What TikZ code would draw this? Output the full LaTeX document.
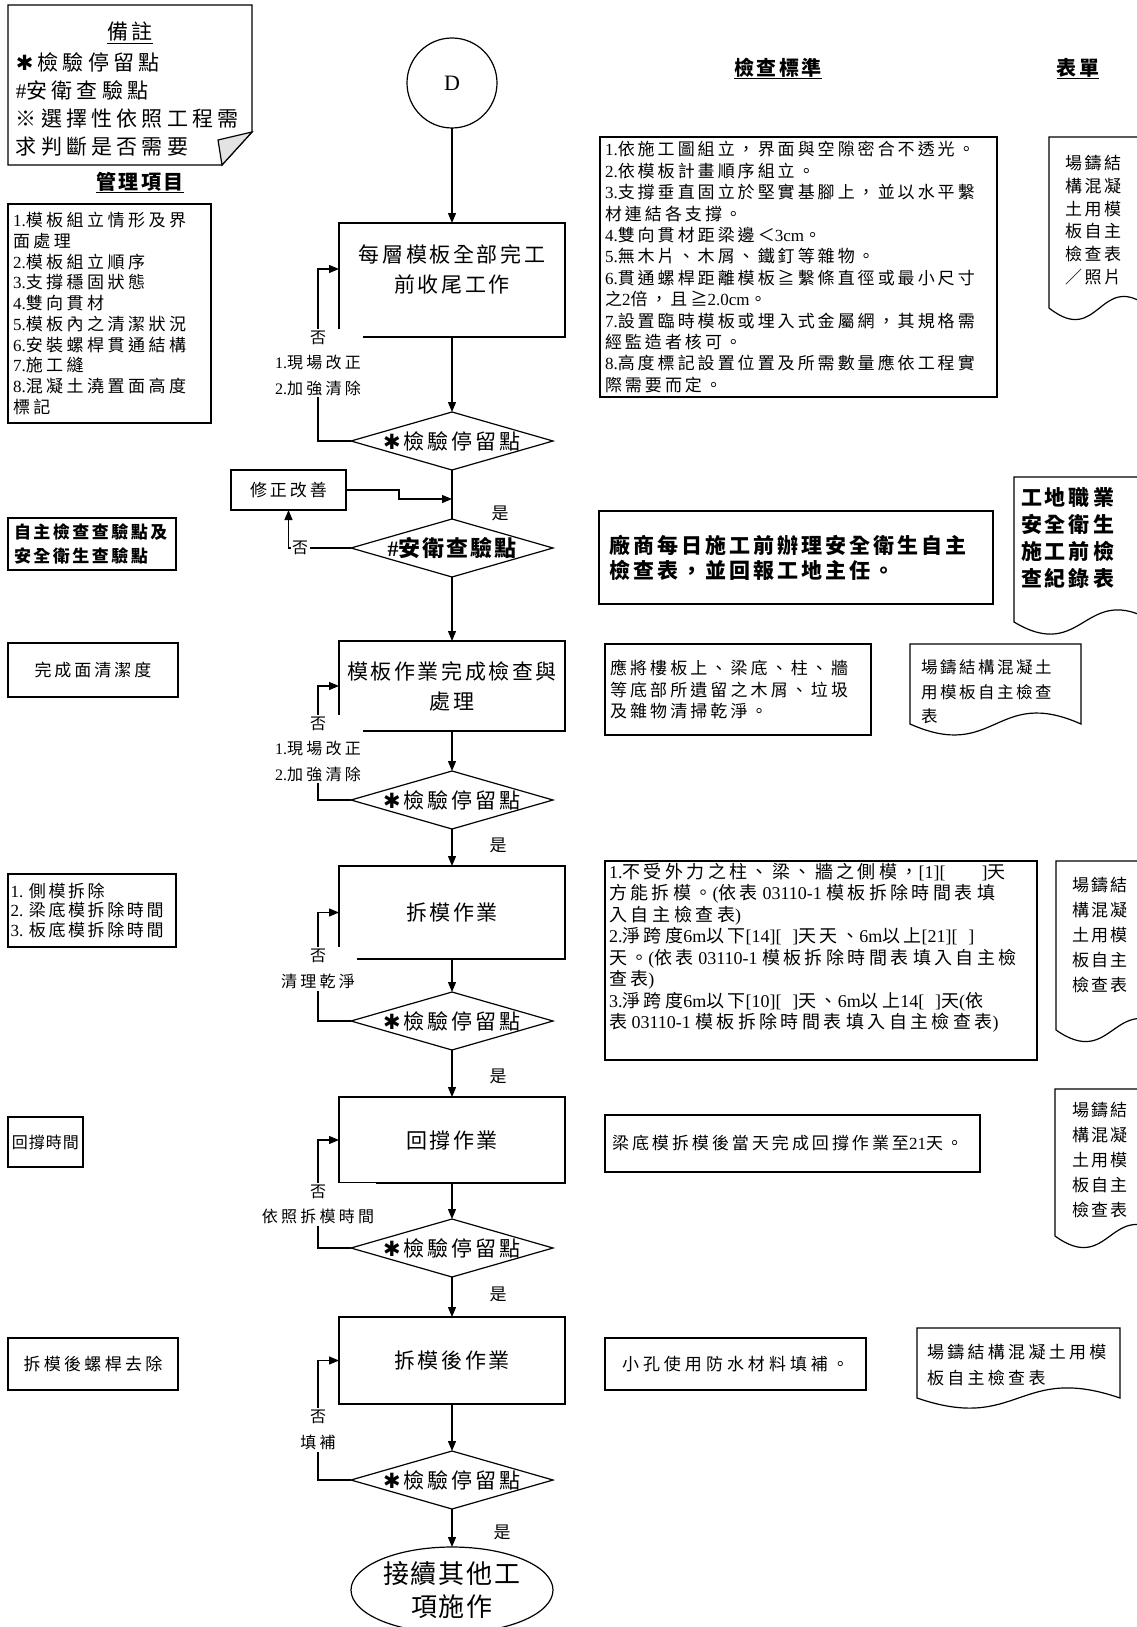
\documentclass[tikz,border=0pt]{standalone}
\usepackage{fontspec}
\setmainfont{Liberation Serif}
\newfontfamily\cjk{Noto Sans CJK TC}
\newfontfamily\djv{DejaVu Sans}
\usetikzlibrary{shapes.geometric,arrows.meta}
\XeTeXinterchartokenstate=1
\newXeTeXintercharclass\CJKcls
\newcount\cjkc
\newdimen\cjkgap
\def\cjkrange#1#2{\cjkc=#1\relax
  \loop\XeTeXcharclass\cjkc=\CJKcls\relax\advance\cjkc by 1\relax\ifnum\cjkc<#2\relax\repeat}
\cjkrange{"4E00}{"A000}
\cjkrange{"3000}{"3040}
\cjkrange{"FF00}{"FFF0}
\XeTeXcharclass"2267=\CJKcls
\XeTeXcharclass"203B=\CJKcls
\XeTeXinterchartoks 0 \CJKcls={\cjk}
\XeTeXinterchartoks 4095 \CJKcls={\cjk}
\XeTeXinterchartoks \CJKcls 0={\rmfamily}
\XeTeXinterchartoks \CJKcls 4095={\rmfamily}
\XeTeXinterchartoks \CJKcls \CJKcls={\kern\cjkgap}
\newcommand\fs[3]{\fontsize{#1}{#2}\selectfont\cjkgap=#3pt\relax}
\newcommand\hast{{\djv\bfseries ✱}\kern\cjkgap}
\begin{document}
\begin{tikzpicture}[x=1pt,y=-1pt,line width=1.2pt,
 every node/.style={inner sep=0pt,outer sep=0pt},
 arr/.style={-{Triangle[length=10pt,width=8pt]}},
 pbox/.style={draw,rectangle,minimum width=226pt,minimum height=#1,align=center,font=\fs{21}{30}{2.6}},
 dia/.style={draw,diamond,minimum width=202pt,minimum height=58pt},
 dlab/.style={font=\fs{21}{25}{3}},
 rbox/.style={draw,rectangle,align=left},
 ctext/.style={align=left,font=\fs{17}{21.4}{3}},
 lbl/.style={fill=white,inner sep=2pt,align=center,font=\fs{16}{25.5}{3.3}},
 yes/.style={font=\fs{17}{20}{0}},
 hdr/.style={font=\fs{20}{24}{2.5}\bfseries},
 doctext/.style={align=left,font=\fs{17}{23}{2.5}},
 ul/.style={line width=1.3pt}
]
\useasboundingbox (0,0) rectangle (1137,1627);

% ---------- note box ----------
\draw (8,5) -- (252,5) -- (252,132) -- (222,165) -- (8,165) -- cycle;
\draw[fill=gray!22] (252,132) -- (218,140) -- (222,165) -- cycle;
\node[font=\fs{21}{25}{4}] (nt) at (130,32) {備註};
\draw[ul] ([yshift=-2pt]nt.south west) -- ([yshift=-2pt]nt.south east);
\node[anchor=west,align=left,font=\fs{21}{27.7}{4.2}] (note) at (16,104.5)
  {\hast 檢驗停留點\\\#安衛查驗點\\※選擇性依照工程需\\求判斷是否需要};

% ---------- headers ----------
\node[hdr] (h1) at (140,182) {管理項目};
\draw[ul] ([yshift=-1pt]h1.south west) -- ([yshift=-1pt]h1.south east);
\node[hdr] (h2) at (778,68) {檢查標準};
\draw[ul] ([yshift=-1pt]h2.south west) -- ([yshift=-1pt]h2.south east);
\node[hdr] (h3) at (1078,68) {表單};
\draw[ul] ([yshift=-1pt]h3.south west) -- ([yshift=-1pt]h3.south east);

% ---------- main flow ----------
\node[draw,circle,minimum size=90pt,font=\fontsize{22}{26}\selectfont] (D) at (452,83) {D};
\node[pbox=114pt,label={[align=center,font=\fs{21}{30}{2.6},yshift=11pt]center:{每層模板全部完工\\前收尾工作}}] (b1) at (452,280) {};
\node[dia,label={[dlab]center:{\hast 檢驗停留點}}] (d1) at (452,441) {};
\node[draw,rectangle,minimum width=115pt,minimum height=40pt,font=\fs{17}{20}{3}] (fix) at (288.5,490) {修正改善};
\coordinate (j1) at (452,499);
\node[dia,label={[font=\fs{22}{25}{2}\bfseries]center:{\#安衛查驗點}}] (d2) at (452,548) {};
\node[pbox=90pt] (b2) at (452,686) {模板作業完成檢查與\\處理};
\node[dia,label={[dlab]center:{\hast 檢驗停留點}}] (d3) at (452,800) {};
\node[pbox=93pt] (b3) at (452,912.5) {拆模作業};
\node[dia,label={[dlab]center:{\hast 檢驗停留點}}] (d4) at (452,1021) {};
\node[pbox=86pt] (b4) at (452,1140) {回撐作業};
\node[dia,label={[dlab]center:{\hast 檢驗停留點}}] (d5) at (452,1248) {};
\node[pbox=87pt] (b5) at (452,1360.5) {拆模後作業};
\node[dia,label={[dlab]center:{\hast 檢驗停留點}}] (d6) at (452,1480) {};
\node[draw,ellipse,minimum width=202pt,minimum height=86pt,
  label={[align=center,font=\fs{26}{33}{2}]center:{接續其他工\\項施作}}] (end) at (452,1590) {};

\draw[arr] (D) -- (b1);
\draw[arr] (b1) -- (d1);
\draw (d1.south) -- (d2.north);
\draw[arr] (d2) -- (b2);
\draw[arr] (b2) -- (d3);
\draw[arr] (d3) -- (b3);
\draw[arr] (b3) -- (d4);
\draw[arr] (d4) -- (b4);
\draw[arr] (b4) -- (d5);
\draw[arr] (d5) -- (b5);
\draw[arr] (b5) -- (d6);
\draw[arr] (d6) -- (end);

\draw[arr] (fix.east) -- ++(53,0) |- (j1);
\draw[arr] (d2.west) -| (fix.south);
\node[fill=white,inner sep=1.5pt,font=\fs{16}{20}{0}] (n2) at (300,548) {否};

\draw[arr] (d1.west) -- ++(-33,0) |- ([yshift=11pt]b1.west);
\draw[arr] (d3.west) -- ++(-33,0) |- (b2.west);
\draw[arr] (d4.west) -- ++(-33,0) |- (b3.west);
\draw[arr] (d5.west) -- ++(-33,0) |- (b4.west);
\draw[arr] (d6.west) -- ++(-33,0) |- (b5.west);
\node[lbl] (l1) at (318,363) {否\\1.現場改正\\2.加強清除};
\node[lbl] (l2) at (318,749) {否\\1.現場改正\\2.加強清除};
\node[lbl] (l3) at (318,969) {否\\清理乾淨};
\node[lbl] (l4) at (318,1204.5) {否\\依照拆模時間};
\node[lbl] (l5) at (318,1430) {否\\填補};

\node[yes] (y1) at (500,513) {是};
\node[yes] (y2) at (498,845) {是};
\node[yes] (y3) at (498,1076) {是};
\node[yes] (y4) at (498,1294) {是};
\node[yes] (y5) at (502,1532) {是};

% ---------- management column ----------
\node[rbox,minimum width=203pt,minimum height=219pt,text width=193pt,font=\fs{17}{20.7}{3.5}] (m1) at (109.5,313.5)
 {1.模板組立情形及界\\面處理\\2.模板組立順序\\3.支撐穩固狀態\\4.雙向貫材\\5.模板內之清潔狀況\\6.安裝螺桿貫通結構\\7.施工縫\\8.混凝土澆置面高度\\標記};
\node[rbox,minimum width=168pt,minimum height=52pt,text width=156pt,font=\fs{17}{24}{2.5}\bfseries] (m2) at (92,544)
 {自主檢查查驗點及\\安全衛生查驗點};
\node[draw,minimum width=170pt,minimum height=54pt,font=\fs{17}{20}{3}] (m3) at (93,670) {完成面清潔度};
\node[rbox,minimum width=168pt,minimum height=73pt,text width=163pt,font=\fs{17}{19.5}{2.6}] (m4) at (92,910.5)
 {1.~側模拆除\\2.~梁底模拆除時間\\3.~板底模拆除時間};
\node[draw,minimum width=75pt,minimum height=50pt,font=\fs{16}{20}{1}] (m5) at (45.5,1142) {回撐時間};
\node[draw,minimum width=170pt,minimum height=52pt,font=\fs{17}{20}{3.3}] (m6) at (93,1364) {拆模後螺桿去除};

% ---------- criteria column ----------
\node[rbox,minimum width=397pt,minimum height=260pt,text width=387pt,ctext] (c1) at (798.5,267)
 {1.依施工圖組立，界面與空隙密合不透光。\\
  2.依模板計畫順序組立。\\
  3.支撐垂直固立於堅實基腳上，並以水平繫\\
  材連結各支撐。\\
  4.雙向貫材距梁邊＜3cm。\\
  5.無木片、木屑、鐵釘等雜物。\\
  6.貫通螺桿距離模板≧繫條直徑或最小尺寸\\
  之2倍，且≧2.0cm。\\
  7.設置臨時模板或埋入式金屬網，其規格需\\
  經監造者核可。\\
  8.高度標記設置位置及所需數量應依工程實\\
  際需要而定。};
\node[rbox,minimum width=394pt,minimum height=93pt,text width=373pt,font=\fs{21}{25}{3}\bfseries] (c2) at (796,557.5)
 {廠商每日施工前辦理安全衛生自主\\檢查表，並回報工地主任。};
\node[rbox,minimum width=266pt,minimum height=91pt,text width=256pt,font=\fs{17}{21.5}{3.1}] (c3) at (738,689.5)
 {應將樓板上、梁底、柱、牆\\等底部所遺留之木屑、垃圾\\及雜物清掃乾淨。};
\node[draw,minimum width=432pt,minimum height=199pt] (c4) at (821,960.5) {};
\node[anchor=north west,align=left,font=\fs{18}{21.5}{3.4}] (c4t) at (609,863)
 {1.不受外力之柱、梁、牆之側模，[1][\hspace{2em}]天\\
  方能拆模。(依表 03110-1 模板拆除時間表 填\\
  入自 主檢查表)\\
  2.淨跨度6m以下[14][\hspace{0.6em}]天天、6m以上[21][\hspace{0.6em}]\\
  天。(依表 03110-1 模板拆除時間表 填入自主檢\\
  查表)\\
  3.淨跨度6m以下[10][\hspace{0.6em}]天、6m以上14[\hspace{0.6em}]天(依\\
  表 03110-1 模板拆除時間表 填入自主檢查表)};
\node[rbox,minimum width=375pt,minimum height=57pt,text width=361pt,font=\fs{17}{20}{3}] (c5) at (792.5,1143.5)
 {梁底模拆模後當天完成回撐作業至21天。};
\node[draw,minimum width=261pt,minimum height=52pt,font=\fs{17}{20}{4}] (c6) at (735.5,1364) {小孔使用防水材料填補。};

% ---------- form documents ----------
\newcommand\docshape[5]{\draw (#1,#2) -- (#3,#2) -- (#3,#4) .. controls ({(#1+#3)/2},{#4-#5}) and ({(#1+#3)/2},{#4+#5}) .. (#1,#4) -- cycle;}
\docshape{1049}{137}{1150}{308}{40}
\node[anchor=west,doctext,font=\fs{17}{22.8}{2.5}] (f1) at (1065,220) {場鑄結\\構混凝\\土用模\\板自主\\檢查表\\／照片};
\docshape{1014}{477}{1154}{622}{42}
\node[anchor=west,align=left,font=\fs{21}{26.7}{3}\bfseries] (f2) at (1021,538) {工地職業\\安全衛生\\施工前檢\\查紀錄表};
\docshape{910}{644}{1081}{724}{38}
\node[anchor=west,doctext,font=\fs{16.5}{24.5}{2.5}] (f3) at (921,692) {場鑄結構混凝土\\用模板自主檢查\\表};
\docshape{1056}{861}{1170}{1030}{40}
\node[anchor=west,doctext,font=\fs{17}{25}{2}] (f4) at (1072,935) {場鑄結\\構混凝\\土用模\\板自主\\檢查表};
\docshape{1055}{1089}{1165}{1236}{40}
\node[anchor=west,doctext,font=\fs{17}{25}{2}] (f5) at (1072,1160) {場鑄結\\構混凝\\土用模\\板自主\\檢查表};
\docshape{917}{1328}{1120}{1398}{35}
\node[anchor=west,doctext,font=\fs{17}{26}{3.3}] (f6) at (927,1365) {場鑄結構混凝土用模\\板自主檢查表};
\end{tikzpicture}
\end{document}
